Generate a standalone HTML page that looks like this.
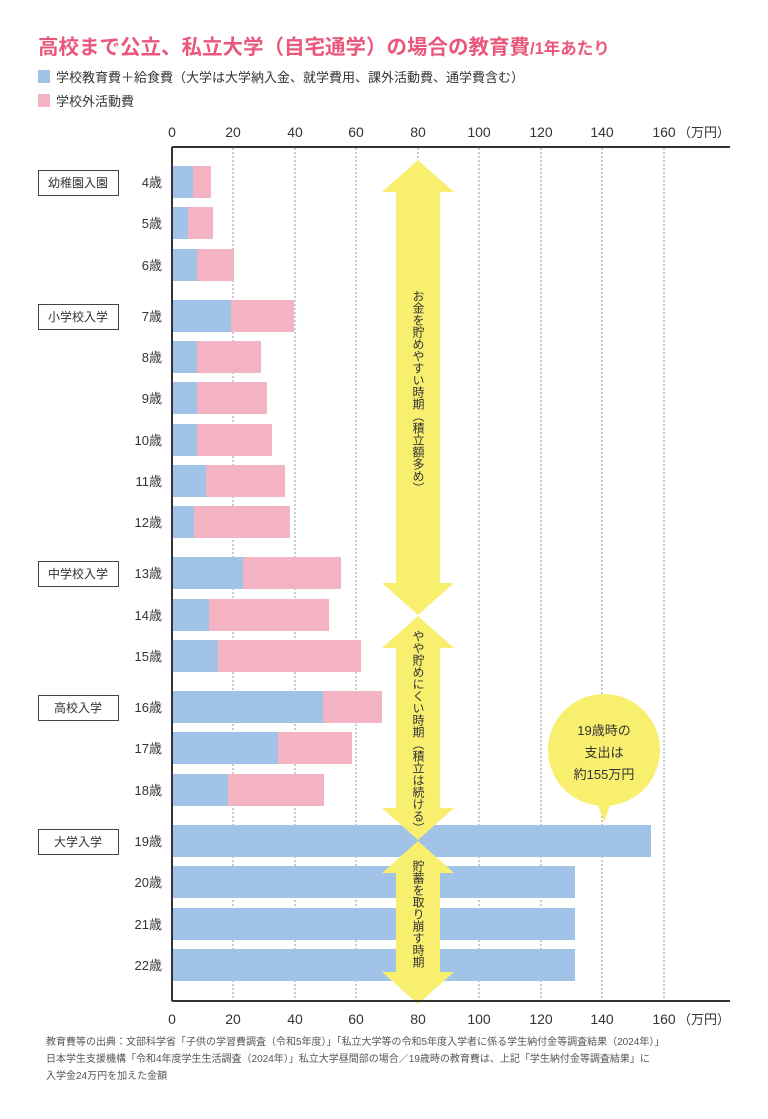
<!DOCTYPE html>
<html><head><meta charset="utf-8"><style>
body{margin:0;background:#fff;font-family:"Liberation Sans","Noto Sans CJK JP",sans-serif;}
svg text{font-family:"Liberation Sans","Noto Sans CJK JP",sans-serif;}
</style></head><body>
<svg width="768" height="1114" viewBox="0 0 768 1114" xmlns="http://www.w3.org/2000/svg">
<text x="38" y="54" font-size="20.5" font-weight="bold" fill="#e9587b">高校まで公立、私立大学（自宅通学）の場合の教育費<tspan font-size="16.5">/1年あたり</tspan></text>
<rect x="38" y="70" width="12" height="13" fill="#a2c3e8"/>
<text x="56" y="82" font-size="13" fill="#333">学校教育費＋給食費（大学は大学納入金、就学費用、課外活動費、通学費含む）</text>
<rect x="38" y="94" width="12" height="13" fill="#f4b3c2"/>
<text x="56" y="106" font-size="13" fill="#333">学校外活動費</text>
<g font-size="14" fill="#333" text-anchor="middle">
<text x="172" y="137">0</text><text x="233" y="137">20</text><text x="295" y="137">40</text><text x="356" y="137">60</text><text x="418" y="137">80</text><text x="479" y="137">100</text><text x="541" y="137">120</text><text x="602" y="137">140</text><text x="664" y="137">160</text>
<text x="172" y="1024">0</text><text x="233" y="1024">20</text><text x="295" y="1024">40</text><text x="356" y="1024">60</text><text x="418" y="1024">80</text><text x="479" y="1024">100</text><text x="541" y="1024">120</text><text x="602" y="1024">140</text><text x="664" y="1024">160</text>
</g>
<text x="678" y="137" font-size="13" fill="#333">（万円）</text>
<text x="678" y="1024" font-size="13" fill="#333">（万円）</text>
<g stroke="#999" stroke-width="1" stroke-dasharray="2,2">
<line x1="233" y1="148" x2="233" y2="1000"/><line x1="295" y1="148" x2="295" y2="1000"/><line x1="356" y1="148" x2="356" y2="1000"/><line x1="418" y1="148" x2="418" y2="1000"/><line x1="479" y1="148" x2="479" y2="1000"/><line x1="541" y1="148" x2="541" y2="1000"/><line x1="602" y1="148" x2="602" y2="1000"/><line x1="664" y1="148" x2="664" y2="1000"/>
</g>
<g>
<rect x="172" y="166" width="21" height="32" fill="#a2c3e8"/><rect x="193" y="166" width="18" height="32" fill="#f4b3c2"/>
<rect x="172" y="207" width="16" height="32" fill="#a2c3e8"/><rect x="188" y="207" width="25" height="32" fill="#f4b3c2"/>
<rect x="172" y="249" width="25" height="32" fill="#a2c3e8"/><rect x="197" y="249" width="37" height="32" fill="#f4b3c2"/>
<rect x="172" y="300" width="59" height="32" fill="#a2c3e8"/><rect x="231" y="300" width="63" height="32" fill="#f4b3c2"/>
<rect x="172" y="341" width="25" height="32" fill="#a2c3e8"/><rect x="197" y="341" width="64" height="32" fill="#f4b3c2"/>
<rect x="172" y="382" width="25" height="32" fill="#a2c3e8"/><rect x="197" y="382" width="70" height="32" fill="#f4b3c2"/>
<rect x="172" y="424" width="25" height="32" fill="#a2c3e8"/><rect x="197" y="424" width="75" height="32" fill="#f4b3c2"/>
<rect x="172" y="465" width="34" height="32" fill="#a2c3e8"/><rect x="206" y="465" width="79" height="32" fill="#f4b3c2"/>
<rect x="172" y="506" width="22" height="32" fill="#a2c3e8"/><rect x="194" y="506" width="96" height="32" fill="#f4b3c2"/>
<rect x="172" y="557" width="71" height="32" fill="#a2c3e8"/><rect x="243" y="557" width="98" height="32" fill="#f4b3c2"/>
<rect x="172" y="599" width="37" height="32" fill="#a2c3e8"/><rect x="209" y="599" width="120" height="32" fill="#f4b3c2"/>
<rect x="172" y="640" width="46" height="32" fill="#a2c3e8"/><rect x="218" y="640" width="143" height="32" fill="#f4b3c2"/>
<rect x="172" y="691" width="151" height="32" fill="#a2c3e8"/><rect x="323" y="691" width="59" height="32" fill="#f4b3c2"/>
<rect x="172" y="732" width="106" height="32" fill="#a2c3e8"/><rect x="278" y="732" width="74" height="32" fill="#f4b3c2"/>
<rect x="172" y="774" width="56" height="32" fill="#a2c3e8"/><rect x="228" y="774" width="96" height="32" fill="#f4b3c2"/>
<rect x="172" y="825" width="479" height="32" fill="#a2c3e8"/>
<rect x="172" y="866" width="403" height="32" fill="#a2c3e8"/>
<rect x="172" y="908" width="403" height="32" fill="#a2c3e8"/>
<rect x="172" y="949" width="403" height="32" fill="#a2c3e8"/>
</g>
<g fill="#f8ef6f">
<polygon points="418,160 454,192 440,192 440,583 454,583 418,615 382,583 396,583 396,192 382,192"/>
<polygon points="418,616 454,648 440,648 440,808 454,808 418,840 382,808 396,808 396,648 382,648"/>
<polygon points="418,841 454,873 440,873 440,972 454,972 418,1004 382,972 396,972 396,972 396,873 382,873"/>
<circle cx="604" cy="750" r="56"/>
<polygon points="596,800 612,800 604,822"/>
</g>
<g font-size="13" fill="#333" text-anchor="middle">
<text x="604" y="735">19歳時の</text><text x="604" y="757">支出は</text><text x="604" y="779">約155万円</text>
</g>
<g font-size="12" fill="#333" style="writing-mode:vertical-rl" text-anchor="start">
<text x="418" y="290" style="writing-mode:tb">お金を貯めやすい時期（積立額多め）</text>
<text x="418" y="630" style="writing-mode:tb">やや貯めにくい時期（積立は続ける）</text>
<text x="418" y="860" style="writing-mode:tb">貯蓄を取り崩す時期</text>
</g>
<line x1="172" y1="147" x2="730" y2="147" stroke="#333" stroke-width="2"/>
<line x1="172" y1="1001" x2="730" y2="1001" stroke="#333" stroke-width="2"/>
<line x1="172" y1="147" x2="172" y2="1001" stroke="#333" stroke-width="2"/>
<g font-size="13" fill="#333" text-anchor="end">
<text x="162" y="187">4歳</text><text x="162" y="228">5歳</text><text x="162" y="270">6歳</text><text x="162" y="321">7歳</text><text x="162" y="362">8歳</text><text x="162" y="403">9歳</text><text x="162" y="445">10歳</text><text x="162" y="486">11歳</text><text x="162" y="527">12歳</text><text x="162" y="578">13歳</text><text x="162" y="620">14歳</text><text x="162" y="661">15歳</text><text x="162" y="712">16歳</text><text x="162" y="753">17歳</text><text x="162" y="795">18歳</text><text x="162" y="846">19歳</text><text x="162" y="887">20歳</text><text x="162" y="929">21歳</text><text x="162" y="970">22歳</text>
</g>
<g fill="#fff" stroke="#444" stroke-width="1">
<rect x="38.5" y="170.5" width="80" height="25"/><rect x="38.5" y="304.5" width="80" height="25"/><rect x="38.5" y="561.5" width="80" height="25"/><rect x="38.5" y="695.5" width="80" height="25"/><rect x="38.5" y="829.5" width="80" height="25"/>
</g>
<g font-size="12" fill="#333" text-anchor="middle">
<text x="78" y="187">幼稚園入園</text><text x="78" y="321">小学校入学</text><text x="78" y="578">中学校入学</text><text x="78" y="712">高校入学</text><text x="78" y="846">大学入学</text>
</g>
<g font-size="10" fill="#555">
<text x="46" y="1045">教育費等の出典：文部科学省「子供の学習費調査（令和5年度）」「私立大学等の令和5年度入学者に係る学生納付金等調査結果（2024年）」</text>
<text x="46" y="1062">日本学生支援機構「令和4年度学生生活調査（2024年）」私立大学昼間部の場合／19歳時の教育費は、上記「学生納付金等調査結果」に</text>
<text x="46" y="1079">入学金24万円を加えた金額</text>
</g>
</svg>
</body></html>
